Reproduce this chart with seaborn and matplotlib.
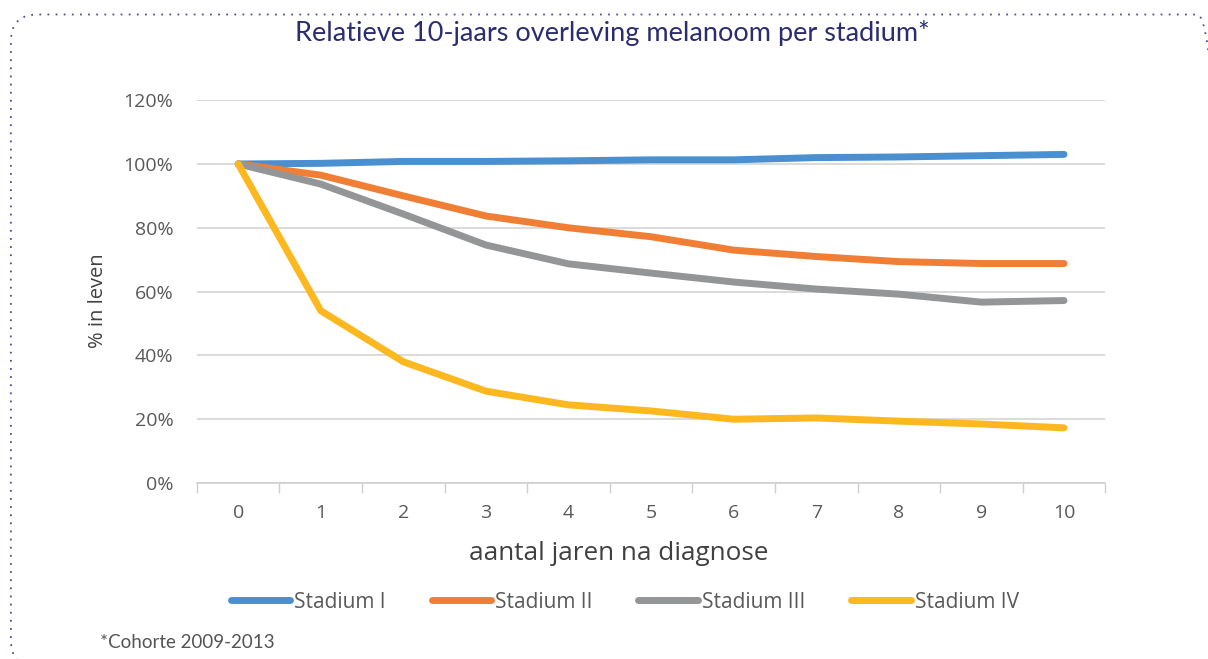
import pandas as pd
import matplotlib.pyplot as plt
import seaborn as sns
from matplotlib.patches import FancyBboxPatch
from matplotlib.ticker import FuncFormatter, FixedLocator

# Data (percentage alive per year since diagnosis)
years = [0, 1, 2, 3, 4, 5, 6, 7, 8, 9, 10]
stadium_1 = [100, 100.2, 100.8, 100.8, 101.0, 101.3, 101.3, 102.0, 102.2, 102.6, 103.0]
stadium_2 = [100, 96.5, 90.0, 83.7, 80.0, 77.2, 73.0, 71.0, 69.4, 68.8, 68.8]
stadium_3 = [100, 93.7, 84.3, 74.6, 68.7, 65.8, 63.0, 60.8, 59.2, 56.7, 57.2]
stadium_4 = [100, 54.0, 38.0, 28.8, 24.5, 22.6, 20.0, 20.4, 19.4, 18.5, 17.3]
series_names = ['Stadium I', 'Stadium II', 'Stadium III', 'Stadium IV']
colors = ['#4a8fd0', '#f07f35', '#939596', '#fcb81e']

title = 'Relatieve 10-jaars overleving melanoom per stadium*'
footnote = '*Cohorte 2009-2013'

# Long-form table for seaborn
frames = []
for name, vals in zip(series_names, [stadium_1, stadium_2, stadium_3, stadium_4]):
    frames.append(pd.DataFrame({'jaar': years, 'pct': [v / 100 for v in vals], 'stadium': name}))
data = pd.concat(frames, ignore_index=True)

sns.set_theme(style='white')
plt.rcParams['font.family'] = ['Open Sans', 'DejaVu Sans']

fig = plt.figure(figsize=(12.08, 6.59), dpi=100)
ax = fig.add_axes([0.163, 0.267, 0.752, 0.581])

sns.lineplot(data=data, x='jaar', y='pct', hue='stadium', palette=colors,
             linewidth=5, ax=ax, legend=True, solid_capstyle='round')

ax.set_xlim(-0.5, 10.5)
ax.set_ylim(0, 1.2)
ax.yaxis.set_major_locator(FixedLocator([0, 0.2, 0.4, 0.6, 0.8, 1.0, 1.2]))
ax.yaxis.set_major_formatter(FuncFormatter(lambda v, p: f'{v * 100:.0f}%'))
ax.set_xticks(years)
ax.set_xticks([y - 0.5 for y in years] + [10.5], minor=True)
ax.tick_params(axis='x', which='major', length=0, pad=15, labelsize=14, labelcolor='#595959')
ax.tick_params(axis='x', which='minor', length=7, width=1, color='#cfcfcf', bottom=True)
ax.tick_params(axis='y', length=0, pad=17, labelsize=14, labelcolor='#595959')

ax.grid(axis='y', color='#d4d4d4', linewidth=1.2)
ax.grid(axis='x', visible=False)
for side in ['top', 'right', 'left']:
    ax.spines[side].set_visible(False)
ax.spines['bottom'].set_color('#cfcfcf')
ax.spines['bottom'].set_linewidth(1.2)

ax.set_xlabel('aantal jaren na diagnose', fontsize=18.8, color='#404040')
ax.xaxis.set_label_coords(0.464, -0.183)
ax.xaxis.label.set_verticalalignment('center')
ax.set_ylabel('% in leven', fontsize=14.5, color='#404040')
ax.yaxis.set_label_coords(-0.109, 0.475)
ax.yaxis.label.set_verticalalignment('center')

leg = ax.legend(loc='center', bbox_to_anchor=(0.471, -0.311), ncol=4, frameon=False,
                fontsize=15, handlelength=2.85, handletextpad=0.2, columnspacing=2.2,
                labelcolor='#595959')
for line in leg.get_lines():
    line.set_linewidth(5)
    line.set_solid_capstyle('round')

fig.text(0.507, 0.95, title, ha='center', va='center', fontsize=19.5,
         color='#2b2d6e', family=['Lato', 'DejaVu Sans'])
fig.text(0.083, 0.025, footnote, ha='left', va='center', fontsize=13.5,
         color='#555555', family=['Lato', 'DejaVu Sans'])

# Dotted rounded frame around the chart (runs off the right and bottom edge)
frame = FancyBboxPatch((0.009, -0.012), 1.004, 0.99, transform=fig.transFigure,
                       boxstyle='round,pad=0,rounding_size=0.022', fill=False,
                       edgecolor='#4f4f96', linestyle=(0, (1, 3.5)), linewidth=1.3,
                       mutation_aspect=1208 / 659)
fig.patches.append(frame)

fig.savefig('out.png', dpi=100)
